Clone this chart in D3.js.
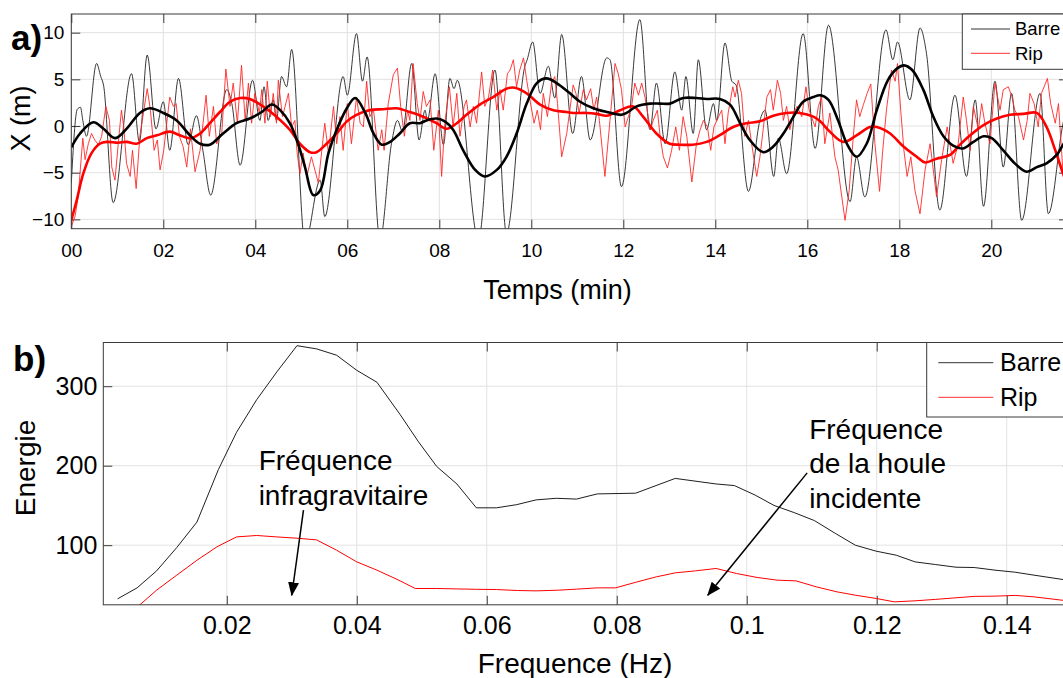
<!DOCTYPE html>
<html>
<head>
<meta charset="utf-8">
<script src="https://cdnjs.cloudflare.com/ajax/libs/d3/7.8.5/d3.min.js"></script>
<style>
body{margin:0;background:#fff;}
svg{display:block;}
</style>
</head>
<body>
<div id="container"></div>
<script>
///data panel a : position X (m) vs temps (min), [t, x]
const barre = [[0,-6.1],[0.13,1.8],[0.2,2.0],[0.25,0.6],[0.33,-1.1],[0.55,6.7],[0.64,5.3],[0.7,4.4],[0.91,-8.2],[1.31,5.6],[1.48,-1.7],[1.65,7.6],[1.84,-0.3],[2.0,2.6],[2.14,-2.6],[2.33,5.1],[2.54,-2.0],[2.72,1.1],[2.86,-2.6],[3.03,-7.4],[3.38,3.9],[3.49,2.4],[3.67,-4.2],[3.94,4.9],[4.1,0.6],[4.19,4.2],[4.28,0.6],[4.39,2.8],[4.46,0.6],[4.57,5.3],[4.68,4.2],[4.79,8.2],[5.08,-12.5],[5.41,-5.8],[5.51,-9.7],[5.91,5.3],[6.0,3.3],[6.2,9.9],[6.33,4.8],[6.43,7.4],[6.71,-12.2],[6.96,-1.9],[7.09,0.6],[7.2,-0.6],[7.4,6.7],[7.56,-1.5],[7.69,1.7],[7.74,0.6],[7.91,5.6],[8.09,-2.0],[8.23,5.1],[8.32,4.0],[8.39,4.9],[8.85,-12.2],[9.21,6.0],[9.46,-11.5],[9.86,6.4],[9.91,7.1],[10.03,9.0],[10.19,3.5],[10.37,6.4],[10.51,3.0],[10.66,9.8],[10.9,-0.8],[11.09,5.3],[11.28,-1.5],[11.64,7.3],[11.71,7.1],[11.96,-6.5],[12.36,11.4],[12.58,-0.4],[12.72,4.6],[12.91,-1.9],[13.12,5.8],[13.27,1.7],[13.36,5.3],[13.52,-0.8],[13.63,7.1],[13.81,-0.4],[13.96,2.4],[14.03,0.6],[14.21,8.9],[14.36,4.8],[14.45,4.4],[14.72,-7.0],[14.97,0.6],[15.08,1.7],[15.27,-5.4],[15.37,-1.3],[15.55,-5.1],[15.91,9.9],[16.17,-2.4],[16.46,10.8],[16.93,-8.1],[17.07,-3.3],[17.25,-7.6],[17.71,10.3],[17.86,7.1],[17.96,9.0],[18.23,2.8],[18.45,10.5],[18.59,7.8],[18.88,-9.0],[19.21,3.3],[19.46,-5.4],[19.65,2.8],[19.83,-8.6],[20.08,4.8],[20.26,-4.4],[20.44,3.5],[20.66,-10.1],[21.06,3.5],[21.24,-9.4],[21.56,0.3],[21.67,2.5]];

const rip = [[0,-10.8],[0.08,-9.7],[0.15,-7.6],[0.2,-4.4],[0.25,-1.3],[0.3,-3.6],[0.37,-1.9],[0.44,-0.8],[0.51,-1.5],[0.59,-2.0],[0.66,-1.1],[0.75,2.1],[0.83,0.6],[0.88,-4.4],[0.95,-5.8],[1.02,-1.9],[1.09,1.7],[1.14,-0.1],[1.2,-4.0],[1.28,-5.4],[1.33,-2.6],[1.41,-6.7],[1.49,-1.1],[1.65,4.0],[1.72,1.7],[1.8,-2.6],[1.87,-1.5],[1.93,-4.7],[2.01,-2.6],[2.07,0.1],[2.14,3.1],[2.22,2.1],[2.28,2.4],[2.35,-1.1],[2.43,-2.2],[2.51,-4.4],[2.59,-0.3],[2.69,-4.9],[2.8,-2.6],[2.93,3.3],[3.0,-1.1],[3.09,2.1],[3.16,-1.9],[3.27,-0.8],[3.36,6.1],[3.45,2.1],[3.52,4.6],[3.61,0.3],[3.7,6.5],[3.78,0.6],[3.85,4.6],[3.92,0.3],[3.99,3.5],[4.09,1.4],[4.14,3.9],[4.21,0.3],[4.26,4.8],[4.33,1.0],[4.39,3.5],[4.46,0.3],[4.5,4.9],[4.59,1.0],[4.72,3.5],[4.79,-0.1],[4.86,0.6],[4.91,-2.9],[4.97,-5.1],[5.04,-2.9],[5.12,-5.4],[5.22,-3.3],[5.37,-6.1],[5.44,-2.9],[5.51,0.3],[5.59,-2.9],[5.7,2.1],[5.77,-1.9],[5.84,1.0],[5.91,-2.6],[6.0,2.4],[6.09,-1.9],[6.2,3.1],[6.28,0.3],[6.35,-0.1],[6.42,4.8],[6.49,1.0],[6.57,1.7],[6.67,-2.6],[6.75,-0.4],[6.8,-2.6],[6.89,2.4],[7.0,5.5],[7.09,6.2],[7.16,2.1],[7.24,-1.1],[7.31,1.7],[7.36,0.6],[7.43,6.7],[7.52,2.4],[7.58,0.6],[7.65,3.7],[7.72,2.1],[7.8,2.8],[7.88,-2.6],[7.98,1.7],[8.05,-5.4],[8.12,0.3],[8.22,4.2],[8.3,-0.1],[8.38,3.5],[8.45,-1.1],[8.54,2.1],[8.59,2.8],[8.67,-0.1],[8.74,2.1],[8.81,0.3],[8.92,5.8],[8.99,2.1],[9.07,3.1],[9.16,6.0],[9.25,1.7],[9.32,3.9],[9.39,1.7],[9.48,5.6],[9.54,6.0],[9.61,7.1],[9.68,4.2],[9.75,6.0],[9.83,7.3],[9.9,4.9],[9.97,2.8],[10.06,0.3],[10.13,1.7],[10.2,-0.4],[10.26,3.5],[10.35,1.0],[10.44,4.6],[10.51,5.3],[10.57,2.4],[10.66,-3.3],[10.77,-0.8],[10.91,4.4],[10.97,3.5],[11.04,1.4],[11.13,3.9],[11.2,2.8],[11.29,4.0],[11.36,1.7],[11.42,3.1],[11.48,0.6],[11.6,-5.4],[11.71,0.6],[11.82,6.7],[11.89,5.6],[11.96,3.9],[12.04,-0.1],[12.11,1.0],[12.18,2.1],[12.25,4.6],[12.33,3.3],[12.4,4.6],[12.47,3.1],[12.59,-0.4],[12.65,0.6],[12.74,1.7],[12.8,-1.1],[12.87,-3.3],[12.96,-4.5],[13.05,-2.6],[13.14,-0.1],[13.22,-2.6],[13.3,1.0],[13.38,-1.1],[13.49,-6.0],[13.59,-1.9],[13.67,-0.4],[13.74,0.6],[13.83,-0.1],[13.9,-2.6],[13.97,-0.1],[14.07,1.0],[14.14,1.7],[14.21,-1.9],[14.28,1.4],[14.38,4.2],[14.43,3.1],[14.5,4.9],[14.57,3.5],[14.64,-1.1],[14.72,0.6],[14.79,-1.9],[14.9,-5.4],[14.97,-3.3],[15.04,-0.4],[15.12,3.1],[15.2,3.9],[15.26,1.7],[15.35,4.9],[15.42,3.5],[15.48,0.6],[15.55,2.1],[15.62,-0.4],[15.7,1.4],[15.78,2.1],[15.88,1.0],[15.97,4.2],[16.04,1.7],[16.17,-0.1],[16.24,2.1],[16.31,3.1],[16.38,-1.9],[16.49,1.4],[16.6,-3.3],[16.67,-4.7],[16.75,-7.6],[16.82,-10.1],[16.91,-6.9],[17.0,-1.1],[17.07,2.8],[17.14,1.0],[17.22,2.3],[17.3,3.5],[17.38,4.5],[17.47,-1.9],[17.57,-7.0],[17.64,-2.6],[17.72,1.7],[17.83,6.0],[17.91,4.8],[17.96,6.7],[18.03,1.7],[18.1,-2.6],[18.17,-5.4],[18.25,-3.3],[18.34,-6.9],[18.45,-9.4],[18.56,-4.7],[18.67,-1.9],[18.81,-7.6],[18.92,-3.6],[19.04,-0.1],[19.17,-4.0],[19.28,-1.9],[19.39,3.1],[19.46,0.6],[19.54,-2.6],[19.61,2.1],[19.72,-0.4],[19.79,2.4],[19.86,0.3],[19.97,-1.9],[20.08,4.6],[20.19,1.7],[20.26,3.9],[20.37,4.2],[20.45,3.1],[20.51,1.7],[20.59,1.0],[20.7,-1.5],[20.78,0.6],[20.84,3.5],[20.93,2.4],[21.02,-0.1],[21.09,3.5],[21.22,5.1],[21.29,2.4],[21.39,0.3],[21.46,2.4],[21.56,-5.1],[21.67,-6.5]];

///moyennes glissantes (traits epais)
const barreLisse = [[0,-2.3],[0.19,-0.8],[0.48,0.4],[0.7,-0.3],[0.95,-1.3],[1.2,-0.3],[1.49,1.4],[1.71,1.9],[2.0,1.4],[2.29,0.6],[2.58,-1.0],[2.8,-1.9],[3.01,-2.0],[3.3,-0.8],[3.59,0.3],[3.88,0.8],[4.14,1.5],[4.36,2.3],[4.54,1.7],[4.75,0.3],[4.93,-1.9],[5.08,-4.4],[5.26,-7.4],[5.41,-6.9],[5.59,-2.9],[5.77,-0.4],[5.99,1.9],[6.17,3.0],[6.39,1.4],[6.57,-0.8],[6.75,-2.0],[6.93,-1.7],[7.14,-0.8],[7.36,0.3],[7.58,0.3],[7.72,0.6],[7.94,0.8],[8.12,0.5],[8.3,-0.4],[8.52,-2.6],[8.78,-4.7],[8.99,-5.4],[9.25,-4.7],[9.46,-3.3],[9.68,-0.8],[9.9,2.4],[10.12,4.6],[10.33,5.1],[10.55,4.6],[10.84,3.5],[11.06,2.6],[11.35,1.9],[11.64,1.5],[11.96,1.2],[12.07,1.4],[12.29,2.1],[12.58,2.4],[12.8,2.4],[13.01,2.4],[13.3,3.0],[13.59,3.0],[13.81,2.9],[14.1,2.9],[14.32,2.3],[14.54,0.3],[14.75,-1.5],[15.04,-2.8],[15.26,-2.2],[15.48,-0.8],[15.7,1.0],[15.91,2.6],[16.13,3.1],[16.28,3.3],[16.46,2.8],[16.67,0.6],[16.86,-1.9],[17.07,-3.3],[17.29,-1.9],[17.51,1.7],[17.75,4.9],[17.96,6.2],[18.1,6.5],[18.28,6.0],[18.52,3.9],[18.74,1.0],[18.96,-1.1],[19.17,-2.1],[19.39,-2.4],[19.61,-1.7],[19.83,-1.1],[20.01,-1.3],[20.26,-2.6],[20.51,-4.0],[20.77,-4.9],[20.99,-4.4],[21.2,-4.0],[21.42,-3.1],[21.56,-2.0],[21.67,-1.2]];

const ripLisse = [[0,-10.1],[0.12,-7.9],[0.26,-5.1],[0.44,-2.9],[0.62,-1.9],[0.77,-1.7],[1.02,-1.8],[1.2,-1.7],[1.42,-1.9],[1.64,-1.3],[1.86,-1.0],[2.14,-0.6],[2.36,-1.0],[2.58,-1.3],[2.8,-0.8],[3.01,0.3],[3.23,1.5],[3.45,2.6],[3.67,3.0],[3.88,2.9],[4.17,2.1],[4.46,1.0],[4.75,-0.4],[4.97,-1.9],[5.19,-2.8],[5.33,-2.8],[5.55,-1.9],[5.77,-0.8],[5.99,0.5],[6.2,1.2],[6.49,1.7],[6.78,1.8],[7.07,1.9],[7.36,1.5],[7.65,1.0],[7.94,0.3],[8.16,-0.3],[8.38,0.3],[8.59,1.2],[8.88,2.3],[9.17,3.1],[9.46,4.0],[9.64,4.1],[9.9,3.5],[10.19,2.3],[10.48,1.7],[10.77,1.5],[10.91,1.4],[11.2,1.4],[11.42,1.3],[11.64,1.1],[11.93,1.7],[12.22,2.1],[12.43,1.0],[12.72,-0.8],[13.01,-1.9],[13.22,-2.0],[13.51,-2.0],[13.81,-1.7],[14.09,-1.0],[14.39,-0.1],[14.68,0.3],[14.97,0.5],[15.26,1.1],[15.55,1.4],[15.84,1.4],[16.13,1.0],[16.28,0.5],[16.49,-0.6],[16.78,-1.7],[17.07,-1.0],[17.36,-0.1],[17.51,-0.1],[17.8,-0.8],[18.09,-2.2],[18.38,-3.3],[18.56,-3.9],[18.81,-3.5],[19.1,-3.1],[19.32,-2.0],[19.54,-1.0],[19.83,0.1],[20.12,0.8],[20.41,1.2],[20.7,1.3],[20.99,1.4],[21.2,-0.1],[21.39,-2.6],[21.56,-5.1],[21.67,-6.5]];

///data panel b : spectre, [frequence (Hz), energie]
const specBarre = [[0.0032,32.5],[0.0062,46.3],[0.0092,67.7],[0.0123,97],[0.0154,129],[0.0187,195],[0.0215,242],[0.0246,283],[0.0277,318],[0.0308,351],[0.0338,347],[0.0369,339],[0.04,320],[0.0431,305],[0.0467,264],[0.0495,230],[0.0523,199],[0.0554,177],[0.0584,147],[0.0615,147],[0.0646,151],[0.0676,157],[0.0707,159],[0.0738,158],[0.077,164.5],[0.0829,165.4],[0.089,184],[0.0953,177],[0.0981,175],[0.1013,163],[0.1042,150],[0.1073,141],[0.1104,131],[0.1136,115],[0.1167,100],[0.1199,92.5],[0.123,87.4],[0.1259,79],[0.129,75.7],[0.1322,72.3],[0.135,71.9],[0.1382,68.6],[0.1413,66],[0.1442,62.3],[0.1485,57],[0.151,54]];

const specRip = [[0.0032,8],[0.0062,22],[0.0092,43.4],[0.0123,62.3],[0.0154,81],[0.0185,98],[0.0215,110.4],[0.0246,112.2],[0.0277,110.4],[0.0308,108.8],[0.0338,106.7],[0.0369,93.7],[0.04,79],[0.0431,68.6],[0.0462,57],[0.049,45.5],[0.0523,45.5],[0.0554,45],[0.0584,44.5],[0.0615,44.2],[0.0647,43],[0.0676,42.5],[0.071,43.4],[0.0738,44.7],[0.077,46.3],[0.0798,46.3],[0.083,53.5],[0.0861,60.2],[0.089,65.2],[0.0921,67.7],[0.0953,70.7],[0.0984,64.4],[0.1016,59.4],[0.1047,56],[0.1076,55.1],[0.1107,47.6],[0.1139,41.3],[0.1167,37.1],[0.1199,33],[0.1227,28.7],[0.1259,30],[0.129,31.8],[0.1322,33.8],[0.135,35.6],[0.1382,35.9],[0.1413,36.8],[0.1442,35],[0.1485,30.8],[0.151,29]];

///ticks
const ticksTemps = [0, 2, 4, 6, 8, 10, 12, 14, 16, 18, 20];
const ticksX = [-10, -5, 0, 5, 10];
const ticksFreq = [0.02, 0.04, 0.06, 0.08, 0.1, 0.12, 0.14];
const ticksEnergie = [100, 200, 300];
const noms = ["Barre", "Rip"];

///annotations (coordonnees en unites du graphe b)
const notes = [
  {lignes: ["Fréquence", "infragravitaire"], f: 0.0249, e: 194, de: [0.0318, 144], a: [0.0300, 37]},
  {lignes: ["Fréquence", "de la houle", "incidente"], f: 0.1096, e: 234, de: [0.1093, 191], a: [0.0940, 37]}
];

///size
let w = 1063, h = 678;
let font = "'Liberation Sans', Arial, Helvetica, sans-serif";
let svg = d3.select("#container").append("svg")
  .attr("width", w).attr("height", h)
  .style("font-family", font);

let defs = svg.append("defs");
defs.append("marker").attr("id", "fleche")
  .attr("viewBox", "0 -6 14 12").attr("refX", 13).attr("refY", 0)
  .attr("markerUnits", "userSpaceOnUse")
  .attr("markerWidth", 14).attr("markerHeight", 12)
  .attr("orient", "auto")
  .append("path").attr("d", "M0,-5.5L14,0L0,5.5Z").attr("fill", "#000");

///frames
let fa = {l: 71.3, r: 1068, t: 14, b: 228.7};
let fb = {l: 103.3, r: 1071.7, t: 342.5, b: 604.8};

let xA = d3.scaleLinear().domain([0, 21.667]).range([fa.l, fa.r]);
let yA = d3.scaleLinear().domain([-11, 12]).range([fa.b, fa.t]);
let xB = d3.scaleLinear().domain([0.001, 0.15]).range([fb.l, fb.r]);
let yB = d3.scaleLinear().domain([25, 355]).range([fb.b, fb.t]);

function panel(id, fr, x, y, xt, yt, xfmt, fs, padX, padY) {
  let g = svg.append("g");
  defs.append("clipPath").attr("id", "clip" + id)
    .append("rect").attr("x", fr.l).attr("y", fr.t)
    .attr("width", fr.r - fr.l).attr("height", fr.b - fr.t);
  ///grid
  g.selectAll(".gx").data(xt).enter().append("line")
    .attr("x1", d => x(d)).attr("x2", d => x(d))
    .attr("y1", fr.t).attr("y2", fr.b)
    .attr("stroke", "#e2e2e2").attr("stroke-width", 1);
  g.selectAll(".gy").data(yt).enter().append("line")
    .attr("x1", fr.l).attr("x2", fr.r)
    .attr("y1", d => y(d)).attr("y2", d => y(d))
    .attr("stroke", "#e2e2e2").attr("stroke-width", 1);
  ///axes, ticks vers l'interieur
  let ax = [
    [d3.axisBottom(x).tickValues(xt).tickFormat(xfmt).tickPadding(padX), `translate(0,${fr.b})`],
    [d3.axisTop(x).tickValues(xt).tickFormat(""), `translate(0,${fr.t})`],
    [d3.axisLeft(y).tickValues(yt).tickPadding(padY), `translate(${fr.l},0)`],
    [d3.axisRight(y).tickValues(yt).tickFormat(""), `translate(${fr.r},0)`]
  ];
  ax.forEach(p => {
    let a = g.append("g").attr("transform", p[1])
      .call(p[0].tickSize(-9).tickSizeOuter(0));
    a.select(".domain").remove();
    a.selectAll("line").attr("stroke", "#3a3a3a");
    a.selectAll("text").attr("fill", "#000").style("font-size", fs + "px").style("font-family", font);
  });
  return g;
}

let gA = panel("A", fa, xA, yA, ticksTemps, ticksX, d3.format("02d"), 19, 14.5, 7);
let gB = panel("B", fb, xB, yB, ticksFreq, ticksEnergie, d => d3.format("")(d), 25, 11.5, 6);

///lines panel a
let lineA = d3.line().x(d => xA(d[0])).y(d => yA(d[1]));
let pa = svg.append("g").attr("clip-path", "url(#clipA)");
pa.append("path").datum(barre)
  .attr("d", lineA.curve(d3.curveMonotoneX))
  .attr("fill", "none").attr("stroke", "#222").attr("stroke-width", 0.9);
pa.append("path").datum(rip)
  .attr("d", lineA.curve(d3.curveLinear))
  .attr("fill", "none").attr("stroke", "#ff2828").attr("stroke-width", 0.9);
pa.append("path").datum(ripLisse)
  .attr("d", lineA.curve(d3.curveCatmullRom))
  .attr("fill", "none").attr("stroke", "#ff0000").attr("stroke-width", 2.6);
pa.append("path").datum(barreLisse)
  .attr("d", lineA.curve(d3.curveCatmullRom))
  .attr("fill", "none").attr("stroke", "#000").attr("stroke-width", 2.6);

///lines panel b
let lineB = d3.line().x(d => xB(d[0])).y(d => yB(d[1]));
let pb = svg.append("g").attr("clip-path", "url(#clipB)");
pb.append("path").datum(specBarre).attr("d", lineB)
  .attr("fill", "none").attr("stroke", "#1e1e1e").attr("stroke-width", 1);
pb.append("path").datum(specRip).attr("d", lineB)
  .attr("fill", "none").attr("stroke", "#ff0000").attr("stroke-width", 1);

///box
[fa, fb].forEach(fr => {
  svg.append("rect").attr("x", fr.l).attr("y", fr.t)
    .attr("width", fr.r - fr.l).attr("height", fr.b - fr.t)
    .attr("fill", "none").attr("stroke", "#3a3a3a").attr("stroke-width", 1);
});

///legends
function legend(x0, y0, hgt, lx1, lx2, tx, rows, fs) {
  let lg = svg.append("g");
  lg.append("rect").attr("x", x0).attr("y", y0).attr("width", 140).attr("height", hgt)
    .attr("fill", "#fff").attr("stroke", "#3a3a3a").attr("stroke-width", 1);
  let cols = ["#333", "#ff3030"];
  noms.forEach((n, i) => {
    lg.append("line").attr("x1", lx1).attr("x2", lx2).attr("y1", rows[i]).attr("y2", rows[i])
      .attr("stroke", cols[i]).attr("stroke-width", 1);
    lg.append("text").attr("x", tx).attr("y", rows[i]).attr("dy", "0.35em")
      .style("font-size", fs + "px").text(n);
  });
}
legend(962.3, 14, 55.3, 971, 1010, 1015, [29, 53.3], 18.5);
legend(926.7, 342.5, 74.5, 938.3, 993.3, 1000, [362.7, 397.3], 25);

///annotations
notes.forEach(n => {
  let t = svg.append("text").attr("x", xB(n.f)).attr("y", yB(n.e)).style("font-size", "28px");
  n.lignes.forEach((l, i) => t.append("tspan").attr("x", xB(n.f)).attr("dy", i ? 34.5 : 0).text(l));
  svg.append("line")
    .attr("x1", xB(n.de[0])).attr("y1", yB(n.de[1]))
    .attr("x2", xB(n.a[0])).attr("y2", yB(n.a[1]))
    .attr("stroke", "#000").attr("stroke-width", 1.5)
    .attr("marker-end", "url(#fleche)");
});

///titles
svg.append("text").attr("x", 11).attr("y", 50).style("font-size", "35px").style("font-weight", "bold").text("a)");
svg.append("text").attr("x", 13).attr("y", 371).style("font-size", "35px").style("font-weight", "bold").text("b)");
svg.append("text").attr("transform", "translate(30,118.5) rotate(-90)").attr("text-anchor", "middle")
  .style("font-size", "27px").text("X (m)");
svg.append("text").attr("x", 557.5).attr("y", 299).attr("text-anchor", "middle")
  .style("font-size", "27px").text("Temps (min)");
svg.append("text").attr("transform", "translate(35,468) rotate(-90)").attr("text-anchor", "middle")
  .style("font-size", "28px").text("Energie");
svg.append("text").attr("x", 575).attr("y", 673).attr("text-anchor", "middle")
  .style("font-size", "28px").text("Frequence (Hz)");
</script>
</body>
</html>
